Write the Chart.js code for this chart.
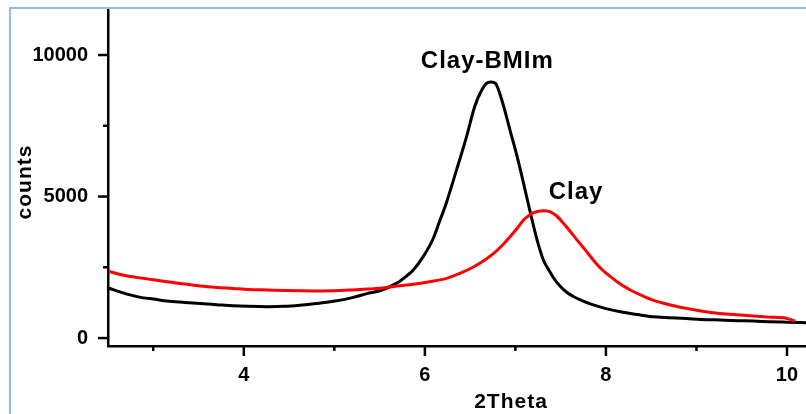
<!DOCTYPE html>
<html>
<head>
<meta charset="utf-8">
<script src="https://cdn.jsdelivr.net/npm/chart.js@4.4.1/dist/chart.umd.min.js"></script>
<style>
  body { margin: 0; background: #fff; }
  canvas { display: block; }
</style>
</head>
<body>
<canvas id="myChart" width="806" height="414"></canvas>
<script>
// values
const bmimX = [2.51, 2.7, 2.89, 3.0, 3.15, 3.35, 3.52, 3.7, 3.88, 4.05, 4.26, 4.45, 4.62, 4.8, 4.99, 5.2, 5.36, 5.51, 5.69, 5.8, 5.87, 5.98, 6.09, 6.16, 6.24, 6.35, 6.46, 6.55, 6.61, 6.68, 6.73, 6.78, 6.85, 6.94, 7.02, 7.09, 7.16, 7.24, 7.31, 7.37, 7.42, 7.49, 7.57, 7.64, 7.71, 7.86, 8.0, 8.16, 8.35, 8.52, 8.7, 8.89, 9.05, 9.26, 9.45, 9.63, 9.8, 10.0, 10.21];
const bmimY = [1760, 1560, 1420, 1380, 1310, 1260, 1220, 1180, 1140, 1120, 1110, 1120, 1160, 1220, 1300, 1430, 1570, 1680, 1940, 2200, 2400, 2870, 3500, 4100, 4800, 5940, 7110, 8170, 8650, 9000, 9050, 9000, 8410, 7350, 6400, 5470, 4500, 3460, 2750, 2400, 2130, 1850, 1610, 1470, 1360, 1170, 1040, 930, 830, 750, 720, 690, 660, 636, 615, 600, 580, 560, 540];

const clayX = [2.51, 2.7, 2.89, 3.0, 3.15, 3.35, 3.52, 3.7, 3.88, 4.05, 4.26, 4.45, 4.62, 4.8, 4.99, 5.2, 5.36, 5.51, 5.69, 5.87, 6.05, 6.24, 6.4, 6.54, 6.65, 6.76, 6.85, 6.94, 7.02, 7.09, 7.15, 7.2, 7.31, 7.38, 7.45, 7.53, 7.6, 7.68, 7.78, 7.86, 7.95, 8.05, 8.15, 8.27, 8.4, 8.52, 8.7, 8.89, 9.05, 9.26, 9.45, 9.63, 9.8, 9.99, 10.09];
const clayY = [2350, 2200, 2110, 2060, 1990, 1910, 1840, 1790, 1755, 1720, 1700, 1680, 1670, 1665, 1670, 1700, 1730, 1760, 1840, 1900, 1990, 2110, 2300, 2520, 2730, 2990, 3260, 3580, 3880, 4170, 4330, 4430, 4500, 4470, 4330, 4060, 3790, 3470, 3080, 2760, 2440, 2170, 1930, 1700, 1500, 1340, 1180, 1050, 960, 870, 820, 780, 740, 700, 600];

const xTicks = [3, 4, 5, 6, 7, 8, 9, 10];
const yTicks = [0, 2500, 5000, 7500, 10000];

const peakLabels = [
  { text: "Clay-BMIm", x: 6.69, y: 9788 },
  { text: "Clay", x: 7.67, y: 5160 }
];

const FONT = 'Arial, "Liberation Sans", sans-serif';

function toPoints(xs, ys) {
  return xs.map((x, i) => ({ x: x, y: ys[i] }));
}

// blue frame, tick marks, axis titles and peak labels
const extras = {
  id: "extras",
  beforeDraw(chart) {
    const ctx = chart.ctx;
    ctx.save();
    ctx.fillStyle = "#fff";
    ctx.fillRect(0, 0, chart.width, chart.height);
    ctx.fillStyle = "#96b9ea";
    ctx.fillRect(9, 7, 2, chart.height - 7);
    ctx.fillRect(9, 7, chart.width - 9, 2);
    ctx.restore();
  },
  afterDraw(chart) {
    const ctx = chart.ctx;
    const xs = chart.scales.x;
    const ys = chart.scales.y;
    const area = chart.chartArea;
    ctx.save();
    ctx.strokeStyle = "#000";
    ctx.lineWidth = 2.5;
    xTicks.forEach(v => {
      const px = xs.getPixelForValue(v);
      const len = v % 2 === 0 ? 10 : 5;
      ctx.beginPath();
      ctx.moveTo(px, area.bottom);
      ctx.lineTo(px, area.bottom + len);
      ctx.stroke();
    });
    yTicks.forEach(v => {
      const py = ys.getPixelForValue(v);
      const len = v % 5000 === 0 ? 10 : 5;
      ctx.beginPath();
      ctx.moveTo(area.left, py);
      ctx.lineTo(area.left - len, py);
      ctx.stroke();
    });

    ctx.fillStyle = "#000";
    ctx.textAlign = "center";
    ctx.textBaseline = "middle";
    ctx.font = "bold 24px " + FONT;
    ctx.letterSpacing = "1px";
    peakLabels.forEach(l => {
      ctx.fillText(l.text, xs.getPixelForValue(l.x), ys.getPixelForValue(l.y));
    });

    ctx.font = "bold 21px " + FONT;
    ctx.fillText("2Theta", 511, 402);
    ctx.translate(25, 182);
    ctx.rotate(-Math.PI / 2);
    ctx.fillText("counts", 0, 0);
    ctx.restore();
  }
};

new Chart(document.getElementById("myChart"), {
  type: "line",
  data: {
    datasets: [
      {
        label: "Clay",
        data: toPoints(clayX, clayY),
        borderColor: "#ff0000",
        borderWidth: 3,
        pointRadius: 0,
        cubicInterpolationMode: "monotone"
      },
      {
        label: "Clay-BMIm",
        data: toPoints(bmimX, bmimY),
        borderColor: "#000000",
        borderWidth: 3,
        pointRadius: 0,
        cubicInterpolationMode: "monotone"
      }
    ]
  },
  options: {
    responsive: false,
    animation: false,
    devicePixelRatio: 1,
    layout: { padding: { top: 10, right: 0, left: 0, bottom: 0 } },
    plugins: { legend: { display: false }, tooltip: { enabled: false } },
    scales: {
      x: {
        type: "linear",
        min: 2.5,
        max: 10.21,
        afterBuildTicks: s => { s.ticks = xTicks.map(v => ({ value: v })); },
        afterFit: s => { s.height = 68; s.paddingLeft = 0; s.paddingRight = 0; },
        grid: { display: true, drawOnChartArea: false, drawTicks: false },
        border: { display: true, color: "#000", width: 2.5 },
        ticks: {
          autoSkip: false,
          maxRotation: 0,
          padding: 17,
          color: "#000",
          font: { family: FONT, size: 20, weight: "bold" },
          callback: v => (v % 2 === 0 ? String(v) : "")
        }
      },
      y: {
        type: "linear",
        min: -280,
        max: 11590,
        afterBuildTicks: s => { s.ticks = yTicks.map(v => ({ value: v })); },
        afterFit: s => { s.width = 108; s.paddingTop = 0; s.paddingBottom = 0; },
        grid: { display: true, drawOnChartArea: false, drawTicks: false },
        border: { display: true, color: "#000", width: 2.5 },
        ticks: {
          autoSkip: false,
          padding: 20,
          color: "#000",
          font: { family: FONT, size: 20, weight: "bold" },
          callback: v => (v % 5000 === 0 ? String(v) : "")
        }
      }
    }
  },
  plugins: [extras]
});
</script>
</body>
</html>
